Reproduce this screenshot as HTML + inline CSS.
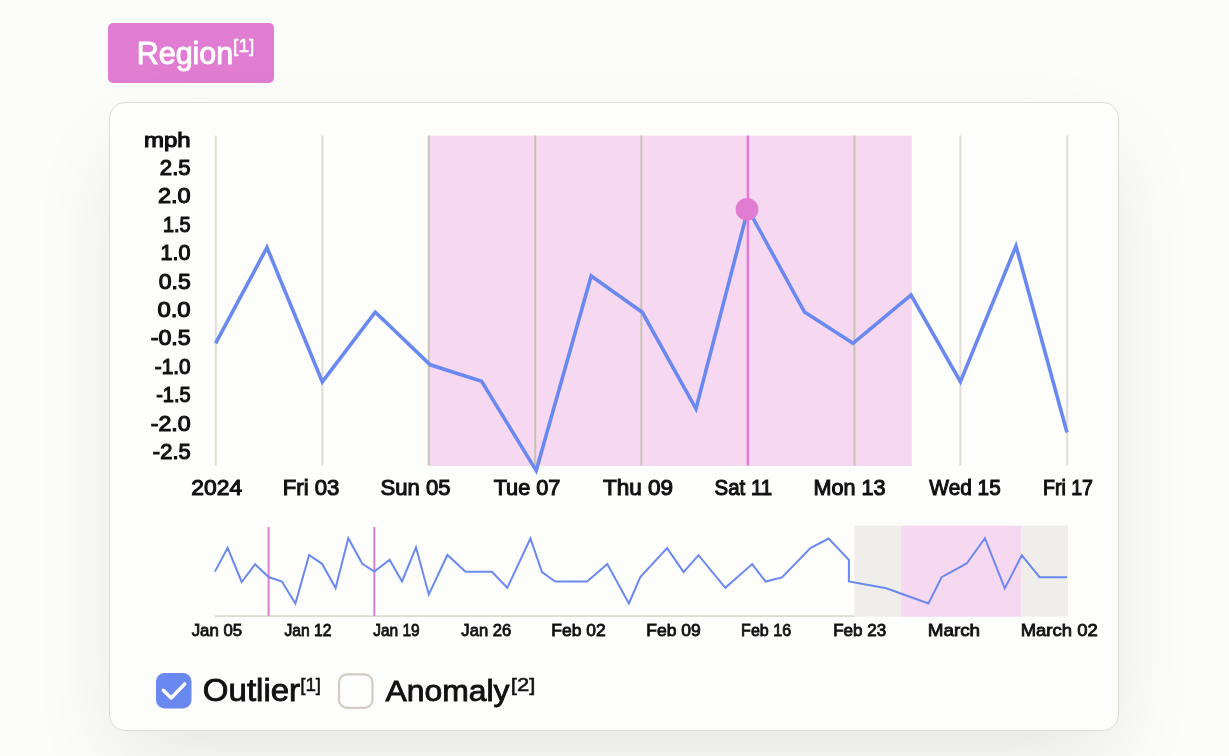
<!DOCTYPE html>
<html><head><meta charset="utf-8"><style>
html,body{margin:0;padding:0;}
body{width:1229px;height:756px;background:#fcfcfb;position:relative;overflow:hidden;font-family:"Liberation Sans",sans-serif;}
.btn{position:absolute;left:108px;top:22.5px;width:165.5px;height:60px;background:#e07cd2;border-radius:5px;}
.card{position:absolute;left:109px;top:102px;width:1008px;height:627px;background:#fdfdfc;border:1px solid #e0dbd2;border-radius:16px;box-shadow:0 36px 90px -8px rgba(0,0,0,0.09);}
svg{position:absolute;left:0;top:0;will-change:transform;}
text{font-family:"Liberation Sans",sans-serif;}
</style></head><body>
<div class="btn"></div>
<div class="card"></div>
<svg width="1229" height="756" viewBox="0 0 1229 756">
<text x="136.67" y="63.62" font-size="31.32" textLength="96.63" lengthAdjust="spacingAndGlyphs" style="fill:#fff;stroke:#fff;stroke-width:0.95">Region</text>
<text x="233.09" y="51.75" font-size="18.77" textLength="21.22" lengthAdjust="spacingAndGlyphs" style="fill:#fff;stroke:#fff;stroke-width:0.5">[1]</text>
<rect x="428.8" y="135.6" width="483" height="330.4" fill="#f7d8f1"/>
<line x1="215.8" y1="135.5" x2="215.8" y2="465.5" stroke="#e1ddd4" stroke-width="2"/>
<line x1="322.4" y1="135.5" x2="322.4" y2="465.5" stroke="#e1ddd4" stroke-width="2"/>
<line x1="428.8" y1="135.5" x2="428.8" y2="465.5" stroke="#c9c3b6" stroke-width="2"/>
<line x1="535.2" y1="135.5" x2="535.2" y2="465.5" stroke="#c9c3b6" stroke-width="2"/>
<line x1="641.3" y1="135.5" x2="641.3" y2="465.5" stroke="#c9c3b6" stroke-width="2"/>
<line x1="854.4" y1="135.5" x2="854.4" y2="465.5" stroke="#c9c3b6" stroke-width="2"/>
<line x1="960.4" y1="135.5" x2="960.4" y2="465.5" stroke="#e1ddd4" stroke-width="2"/>
<line x1="1067.2" y1="135.5" x2="1067.2" y2="465.5" stroke="#e1ddd4" stroke-width="2"/>
<line x1="747.9" y1="135.5" x2="747.9" y2="465.5" stroke="#e07cd2" stroke-width="2.5"/>
<polyline points="215.6,343.3 267,247.5 322.3,381.8 375.2,312.1 430.2,364.8 481.6,381.3 536.2,470.6 591.2,276 642.3,312.3 696,408.8 748,209 804.5,312 853,343.3 911,295 960.4,381.6 1016,246 1067,432.5" fill="none" stroke="#6a89f0" stroke-width="3.6" stroke-linejoin="miter" stroke-miterlimit="10"/>
<circle cx="747" cy="209.3" r="11.4" fill="#e07cd2"/>
<text x="143.96" y="146.95" font-size="19.87" textLength="46.65" lengthAdjust="spacingAndGlyphs" style="fill:#111;stroke:#111;stroke-width:1.1">mph</text>
<text x="159.83" y="174.75" font-size="21.20" textLength="30.85" lengthAdjust="spacingAndGlyphs" style="fill:#111;stroke:#111;stroke-width:1.1">2.5</text>
<text x="157.97" y="203.20" font-size="21.20" textLength="32.70" lengthAdjust="spacingAndGlyphs" style="fill:#111;stroke:#111;stroke-width:1.1">2.0</text>
<text x="162.93" y="231.65" font-size="21.20" textLength="27.65" lengthAdjust="spacingAndGlyphs" style="fill:#111;stroke:#111;stroke-width:1.1">1.5</text>
<text x="160.61" y="260.10" font-size="21.20" textLength="29.99" lengthAdjust="spacingAndGlyphs" style="fill:#111;stroke:#111;stroke-width:1.1">1.0</text>
<text x="158.75" y="288.55" font-size="21.20" textLength="31.96" lengthAdjust="spacingAndGlyphs" style="fill:#111;stroke:#111;stroke-width:1.1">0.5</text>
<text x="157.42" y="317.00" font-size="21.20" textLength="33.27" lengthAdjust="spacingAndGlyphs" style="fill:#111;stroke:#111;stroke-width:1.1">0.0</text>
<text x="150.72" y="345.45" font-size="21.20" textLength="40.01" lengthAdjust="spacingAndGlyphs" style="fill:#111;stroke:#111;stroke-width:1.1">-0.5</text>
<text x="154.73" y="373.90" font-size="21.20" textLength="35.84" lengthAdjust="spacingAndGlyphs" style="fill:#111;stroke:#111;stroke-width:1.1">-1.0</text>
<text x="156.16" y="402.35" font-size="21.20" textLength="34.43" lengthAdjust="spacingAndGlyphs" style="fill:#111;stroke:#111;stroke-width:1.1">-1.5</text>
<text x="150.72" y="430.80" font-size="21.20" textLength="39.94" lengthAdjust="spacingAndGlyphs" style="fill:#111;stroke:#111;stroke-width:1.1">-2.0</text>
<text x="152.88" y="459.25" font-size="21.20" textLength="37.80" lengthAdjust="spacingAndGlyphs" style="fill:#111;stroke:#111;stroke-width:1.1">-2.5</text>
<text x="191.30" y="495.25" font-size="22.38" textLength="50.82" lengthAdjust="spacingAndGlyphs" style="fill:#111;stroke:#111;stroke-width:1.1">2024</text>
<text x="282.73" y="495.25" font-size="22.38" textLength="56.69" lengthAdjust="spacingAndGlyphs" style="fill:#111;stroke:#111;stroke-width:1.1">Fri 03</text>
<text x="380.55" y="495.25" font-size="22.38" textLength="70.03" lengthAdjust="spacingAndGlyphs" style="fill:#111;stroke:#111;stroke-width:1.1">Sun 05</text>
<text x="493.67" y="495.25" font-size="22.38" textLength="66.76" lengthAdjust="spacingAndGlyphs" style="fill:#111;stroke:#111;stroke-width:1.1">Tue 07</text>
<text x="602.94" y="495.25" font-size="22.38" textLength="70.17" lengthAdjust="spacingAndGlyphs" style="fill:#111;stroke:#111;stroke-width:1.1">Thu 09</text>
<text x="714.55" y="495.25" font-size="22.38" textLength="57.58" lengthAdjust="spacingAndGlyphs" style="fill:#111;stroke:#111;stroke-width:1.1">Sat 11</text>
<text x="813.58" y="495.25" font-size="22.38" textLength="71.92" lengthAdjust="spacingAndGlyphs" style="fill:#111;stroke:#111;stroke-width:1.1">Mon 13</text>
<text x="929.36" y="495.25" font-size="22.38" textLength="71.36" lengthAdjust="spacingAndGlyphs" style="fill:#111;stroke:#111;stroke-width:1.1">Wed 15</text>
<text x="1042.94" y="495.25" font-size="22.38" textLength="50.09" lengthAdjust="spacingAndGlyphs" style="fill:#111;stroke:#111;stroke-width:1.1">Fri 17</text>
<line x1="215" y1="616.2" x2="855" y2="616.2" stroke="#dfdbd1" stroke-width="1.8"/>
<rect x="854.4" y="525.7" width="213.7" height="91" fill="#f0eeeb"/>
<rect x="901.3" y="525.7" width="119.6" height="91" fill="#f7d8f1"/>
<line x1="268.6" y1="527" x2="268.6" y2="616" stroke="#e07cd2" stroke-width="2"/>
<line x1="374.3" y1="527" x2="374.3" y2="616" stroke="#e07cd2" stroke-width="2"/>
<polyline points="214.9,571.6 227.6,547.8 241.7,582 255.1,564.2 268.6,577 281.9,581.5 295.4,603.5 309.1,555 322,563.8 335.6,588.1 348.3,538.2 362.3,563.8 374.4,571.6 389.6,559.7 402,581.5 416,547.3 428.8,594.4 447.4,555 465.6,571.7 491.9,571.7 507.3,587.8 530.4,538.5 542,572 555.2,581.5 587.1,581.5 607.3,564.1 628.9,603.5 640.3,577 667.1,548.1 683.6,572.1 698.5,555.2 725.3,587.8 752.2,564.1 765.6,581.5 782,577.4 810.4,548.1 828.6,538.5 848.9,559.8 848.9,581.5 885,587.9 928.4,603.4 941.6,577.2 966.7,563.5 984.9,538.2 1004.8,588.4 1021.8,555.3 1039.6,577.2 1067,577.2" fill="none" stroke="#6a89f0" stroke-width="2" stroke-linejoin="miter"/>
<text x="191.66" y="635.88" font-size="17.37" textLength="50.42" lengthAdjust="spacingAndGlyphs" style="fill:#111;stroke:#111;stroke-width:0.85">Jan 05</text>
<text x="284.38" y="635.88" font-size="17.37" textLength="46.98" lengthAdjust="spacingAndGlyphs" style="fill:#111;stroke:#111;stroke-width:0.85">Jan 12</text>
<text x="373.18" y="635.88" font-size="17.37" textLength="46.42" lengthAdjust="spacingAndGlyphs" style="fill:#111;stroke:#111;stroke-width:0.85">Jan 19</text>
<text x="461.37" y="635.88" font-size="17.37" textLength="49.94" lengthAdjust="spacingAndGlyphs" style="fill:#111;stroke:#111;stroke-width:0.85">Jan 26</text>
<text x="551.29" y="635.88" font-size="17.37" textLength="54.46" lengthAdjust="spacingAndGlyphs" style="fill:#111;stroke:#111;stroke-width:0.85">Feb 02</text>
<text x="646.29" y="635.88" font-size="17.37" textLength="54.52" lengthAdjust="spacingAndGlyphs" style="fill:#111;stroke:#111;stroke-width:0.85">Feb 09</text>
<text x="741.11" y="635.88" font-size="17.37" textLength="49.97" lengthAdjust="spacingAndGlyphs" style="fill:#111;stroke:#111;stroke-width:0.85">Feb 16</text>
<text x="833.13" y="635.88" font-size="17.37" textLength="52.99" lengthAdjust="spacingAndGlyphs" style="fill:#111;stroke:#111;stroke-width:0.85">Feb 23</text>
<text x="927.68" y="635.88" font-size="17.37" textLength="52.42" lengthAdjust="spacingAndGlyphs" style="fill:#111;stroke:#111;stroke-width:0.85">March</text>
<text x="1020.71" y="635.88" font-size="17.37" textLength="76.99" lengthAdjust="spacingAndGlyphs" style="fill:#111;stroke:#111;stroke-width:0.85">March 02</text>
<rect x="156" y="673" width="35.5" height="35.5" rx="8.5" fill="#6a89f0"/>
<polyline points="163.3,690.3 171.2,698 184.8,683.9" fill="none" stroke="#fff" stroke-width="3.4" stroke-linecap="round" stroke-linejoin="round"/>
<text x="202.86" y="701.28" font-size="30.58" textLength="97.26" lengthAdjust="spacingAndGlyphs" style="fill:#111;stroke:#111;stroke-width:0.85">Outlier</text>
<text x="300.21" y="691.21" font-size="18.99" textLength="20.88" lengthAdjust="spacingAndGlyphs" style="fill:#111;stroke:#111;stroke-width:0.5">[1]</text>
<rect x="339" y="674.4" width="33.5" height="33.5" rx="8" fill="none" stroke="#d3ccc1" stroke-width="2.2"/>
<text x="385.46" y="701.08" font-size="29.14" textLength="124.07" lengthAdjust="spacingAndGlyphs" style="fill:#111;stroke:#111;stroke-width:0.85">Anomaly</text>
<text x="510.88" y="691.21" font-size="18.99" textLength="24.55" lengthAdjust="spacingAndGlyphs" style="fill:#111;stroke:#111;stroke-width:0.5">[2]</text>
</svg>
</body></html>
